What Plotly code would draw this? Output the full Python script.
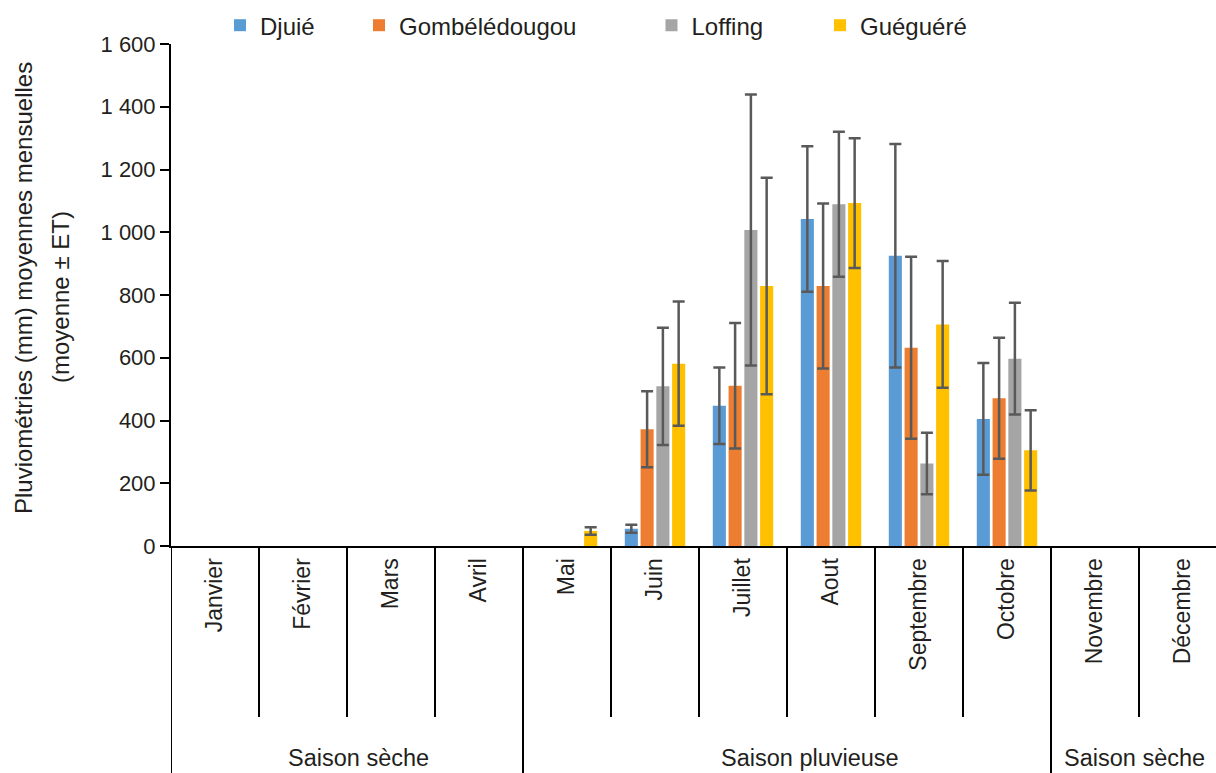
import plotly.graph_objects as go

months = ["Janvier", "Février", "Mars", "Avril", "Mai", "Juin", "Juillet",
          "Aout", "Septembre", "Octobre", "Novembre", "Décembre"]
series_names = ["Djuié", "Gombélédougou", "Loffing", "Guéguéré"]
colors = ["#5B9BD5", "#ED7D31", "#A5A5A5", "#FFC000"]

djuie = [None, None, None, None, None, 55, 447, 1042, 925, 405, None, None]
gombe = [None, None, None, None, None, 372, 511, 829, 632, 471, None, None]
loffing = [None, None, None, None, None, 509, 1007, 1089, 263, 597, None, None]
gueguere = [None, None, None, None, 48, 581, 829, 1093, 706, 305, None, None]

djuie_sd = [None, None, None, None, None, 13, 122, 232, 356, 178, None, None]
gombe_sd = [None, None, None, None, None, 121, 200, 263, 290, 193, None, None]
loffing_sd = [None, None, None, None, None, 187, 432, 231, 98, 178, None, None]
gueguere_sd = [None, None, None, None, 12, 198, 345, 207, 202, 128, None, None]

y_tickvals = [0, 200, 400, 600, 800, 1000, 1200, 1400, 1600]
y_ticktext = ["0", "200", "400", "600", "800", "1 000", "1 200", "1 400", "1 600"]

seasons = ["Saison sèche", "Saison pluvieuse", "Saison sèche"]
y_title_lines = ["Pluviométries (mm) moyennes mensuelles", "(moyenne ± ET)"]

values = [djuie, gombe, loffing, gueguere]
sds = [djuie_sd, gombe_sd, loffing_sd, gueguere_sd]

FONT = "Liberation Sans, Arial, sans-serif"
TXT = "#231f20"

W, H = 1216, 773
L, R, T, B = 171, 0, 44, 227
pw = W - L - R
ph = H - T - B
cat_w = 88.0
x_max = -0.5 + pw / cat_w

fig = go.Figure()
legend_centers = [240, 379, 671.5, 840]
for i, (name, col, v, sd) in enumerate(zip(series_names, colors, values, sds)):
    leg = "legend" if i == 0 else f"legend{i+1}"
    fig.add_trace(go.Bar(
        x=months, y=v, name=name, marker_color=col, marker_line_width=0,
        error_y=dict(type="data", array=sd, visible=True, color="#595959",
                     thickness=2.5, width=6),
        legend=leg, showlegend=True,
    ))

legend_y = 1 + (T - 25.6) / ph
legends = {}
for i, c in enumerate(legend_centers):
    key = "legend" if i == 0 else f"legend{i+1}"
    legends[key] = dict(
        x=(c - 20 - L) / pw, y=legend_y, xanchor="left", yanchor="middle",
        orientation="h", font=dict(family=FONT, size=24, color=TXT),
        bgcolor="rgba(0,0,0,0)", borderwidth=0, visible=True,
    )

shapes = []
y_short = -(717 - 546) / ph
y_long = -(775 - 546) / ph
for i in range(11):
    xb = i + 0.5
    long = i in (3, 9)
    shapes.append(dict(type="line", xref="x", yref="paper", x0=xb, x1=xb,
                       y0=0, y1=(y_long if long else y_short),
                       line=dict(color="black", width=2)))
# left axis line continued down through the category area
shapes.append(dict(type="line", xref="x", yref="paper", x0=-0.5, x1=-0.5,
                   y0=0, y1=y_long, line=dict(color="black", width=2)))

annotations = []
season_x = [1.625, 6.76, 10.45]
for s, xs in zip(seasons, season_x):
    annotations.append(dict(text=s, x=xs, xref="x", y=-(758 - 546) / ph, yref="paper",
                            xanchor="center", yanchor="middle", showarrow=False,
                            font=dict(family=FONT, size=23.5, color=TXT)))

# y-axis title, two lines
title_px_x = [23, 60]
title_px_y = [288, 297]
for txt, px, py in zip(y_title_lines, title_px_x, title_px_y):
    annotations.append(dict(text=txt, textangle=-90,
                            x=(px - L) / pw, xref="paper",
                            y=(T + ph - py) / ph, yref="paper",
                            xanchor="center", yanchor="middle", showarrow=False,
                            font=dict(family=FONT, size=24, color=TXT)))

fig.update_layout(
    width=W, height=H,
    margin=dict(l=L, r=R, t=T, b=B, pad=0),
    paper_bgcolor="white", plot_bgcolor="white",
    barmode="group", bargap=0.283, bargroupgap=0.17,
    font=dict(family=FONT, size=22, color=TXT),
    showlegend=True,
    shapes=shapes, annotations=annotations,
    **legends,
)
fig.update_xaxes(
    type="category", range=[-0.5, x_max], showgrid=False, zeroline=False,
    showline=True, linecolor="black", linewidth=2,
    tickangle=-90, ticks="", ticklabelstandoff=1,
    tickfont=dict(family=FONT, size=23, color=TXT),
)
fig.update_yaxes(
    range=[0, 1600], showgrid=False, zeroline=False,
    showline=True, linecolor="black", linewidth=2,
    tickvals=y_tickvals, ticktext=y_ticktext,
    ticks="outside", ticklen=9, tickwidth=2, tickcolor="black",
    tickfont=dict(family=FONT, size=22, color=TXT),
)

fig.write_html("out.html")
